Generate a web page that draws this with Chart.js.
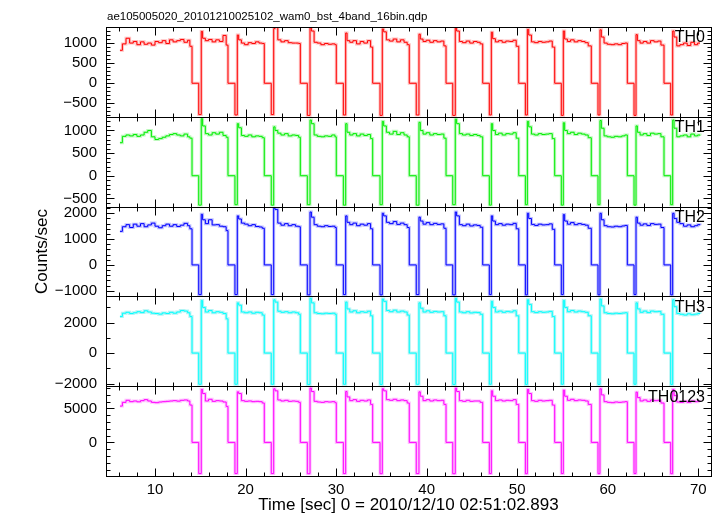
<!DOCTYPE html>
<html>
<head>
<meta charset="utf-8">
<script src="https://cdn.jsdelivr.net/npm/chart.js@4.4.1/dist/chart.umd.min.js"></script>
<style>
html, body { margin: 0; padding: 0; background: #fff; }
#wrap { width: 720px; height: 516px; }
</style>
</head>
<body>
<div id="wrap"><canvas id="lc" width="720" height="516"></canvas></div>
<script>
var fileTitle = 'ae105005020_20101210025102_wam0_bst_4band_16bin.qdp';
var xTitle = 'Time [sec] 0 = 2010/12/10 02:51:02.893';
var yTitle = 'Counts/sec';
var bandNames = ['TH0', 'TH1', 'TH2', 'TH3', 'TH0123'];

// bin start times (sec)
var timeSec = [
    6.13, 6.4, 6.8, 7.2, 7.6, 8.0, 8.4, 8.8, 9.2, 9.6, 10.0, 10.4, 10.8, 11.2, 11.6, 12.0, 12.4, 12.8, 13.2, 13.6, 13.85,
    14.09, 14.83,
    15.11, 15.26, 15.56, 15.91, 16.31, 16.71, 17.11, 17.51, 17.86, 18.06, 18.83,
    19.09, 19.24, 19.54, 19.89, 20.29, 20.69, 21.09, 21.49, 21.84, 22.07, 22.84,
    23.11, 23.26, 23.56, 23.91, 24.31, 24.71, 25.11, 25.51, 25.86, 26.05, 26.82,
    27.12, 27.27, 27.57, 27.92, 28.32, 28.72, 29.12, 29.52, 29.87, 30.02, 30.80,
    31.06, 31.21, 31.51, 31.86, 32.26, 32.66, 33.06, 33.46, 33.81, 34.04, 34.85,
    35.10, 35.25, 35.55, 35.90, 36.30, 36.70, 37.10, 37.50, 37.85, 38.08, 38.85,
    39.15, 39.30, 39.60, 39.95, 40.35, 40.75, 41.15, 41.55, 41.90, 42.14, 42.88,
    43.16, 43.31, 43.61, 43.96, 44.36, 44.76, 45.16, 45.56, 45.91, 46.19, 46.92,
    47.14, 47.29, 47.59, 47.94, 48.34, 48.74, 49.14, 49.54, 49.89, 50.17, 50.90,
    51.12, 51.27, 51.57, 51.92, 52.32, 52.72, 53.12, 53.52, 53.87, 54.14, 54.87,
    55.09, 55.24, 55.54, 55.89, 56.29, 56.69, 57.09, 57.49, 57.84, 58.18, 58.92,
    59.14, 59.29, 59.59, 59.94, 60.34, 60.74, 61.14, 61.54, 61.89, 62.16, 62.90,
    63.12, 63.27, 63.57, 63.92, 64.32, 64.72, 65.12, 65.52, 65.87, 66.21, 66.95,
    67.17, 67.32, 67.62, 67.97, 68.37, 68.77, 69.17, 69.57, 69.92, 70.19
];

var th0 = [
    820, 980, 1120, 1000, 1040, 960, 1030, 970, 1000, 950, 1040, 1010, 1060, 990, 1080, 1030, 1060, 1090, 1020, 1070, 920,
    0, -780,
    1290, 1120, 1060, 1090, 1030, 1080, 1040, 1190, 950, 0, -790,
    1200, 1080, 1000, 960, 1010, 990, 1030, 1000, 990, 0, -780,
    1360, 1390, 1080, 1030, 1060, 1010, 1000, 1000, 990, 0, -800,
    1380, 1300, 1020, 1000, 960, 990, 970, 980, 960, 0, -790,
    1250, 1060, 1020, 1060, 980, 1040, 1000, 1060, 900, 0, -800,
    1350, 1280, 1080, 1050, 1100, 1030, 1080, 1020, 960, 0, -790,
    1220, 1100, 1040, 1070, 1020, 1060, 1030, 1050, 930, 0, -800,
    1380, 1300, 1040, 1010, 1050, 1000, 1040, 1020, 980, 0, -790,
    1270, 1110, 1030, 1060, 1020, 1050, 1040, 1070, 920, 0, -790,
    1340, 1200, 1030, 1010, 1040, 1020, 1030, 1050, 900, 0, -800,
    1300, 1100, 1040, 1080, 1030, 1060, 1040, 1010, 930, 0, -790,
    1330, 1150, 1000, 970, 960, 980, 960, 990, 1000, 0, -800,
    1210, 1060, 1000, 1040, 1000, 1060, 1030, 1050, 950, 0, -790,
    1300, 1150, 930, 960, 1000, 940, 1020, 960, 1000, 1000
];

var th1 = [
    730, 870, 900, 880, 910, 870, 900, 960, 1000, 860, 800, 820, 850, 880, 910, 930, 900, 880, 920, 860, 830,
    0, -650,
    1260, 1100, 930, 900, 950, 920, 960, 890, 850, 0, -640,
    1150, 1060, 890, 870, 900, 860, 880, 870, 840, 0, -650,
    1080, 1000, 940, 900, 930, 880, 900, 890, 850, 0, -640,
    1230, 1150, 900, 870, 860, 880, 870, 900, 860, 0, -650,
    1150, 960, 900, 930, 880, 920, 890, 910, 820, 0, -640,
    1200, 1100, 960, 920, 980, 910, 950, 900, 860, 0, -650,
    1180, 1000, 920, 950, 900, 930, 910, 920, 830, 0, -640,
    1250, 1150, 930, 900, 920, 890, 910, 890, 860, 0, -650,
    1150, 1000, 910, 940, 900, 930, 920, 950, 830, 0, -640,
    1200, 1080, 920, 900, 930, 910, 920, 930, 820, 0, -650,
    1170, 1000, 930, 960, 910, 940, 920, 900, 840, 0, -640,
    1220, 1050, 880, 860, 850, 870, 860, 880, 900, 0, -650,
    1100, 960, 900, 930, 890, 940, 920, 930, 860, 0, -640,
    1230, 1050, 860, 880, 900, 860, 920, 880, 900, 890
];

var th2 = [
    1300, 1480, 1560, 1450, 1580, 1500, 1600, 1480, 1550, 1620, 1500, 1440, 1520, 1580, 1500, 1560, 1490, 1540, 1610, 1520, 1400,
    0, -1150,
    1960, 1750, 1600, 1750, 1550, 1560, 1500, 1480, 1330, 0, -1150,
    1900, 1780, 1620, 1580, 1520, 1560, 1490, 1470, 1420, 0, -1150,
    2200, 2150, 1620, 1540, 1600, 1520, 1560, 1500, 1480, 0, -1160,
    2050, 1850, 1560, 1500, 1480, 1520, 1490, 1500, 1450, 0, -1150,
    1900, 1650, 1560, 1620, 1520, 1580, 1540, 1600, 1400, 0, -1160,
    2000, 1900, 1650, 1600, 1680, 1570, 1620, 1560, 1450, 0, -1150,
    1850, 1700, 1580, 1640, 1560, 1610, 1570, 1590, 1420, 0, -1160,
    2050, 1900, 1560, 1520, 1580, 1510, 1550, 1530, 1460, 0, -1150,
    1900, 1700, 1560, 1600, 1540, 1580, 1560, 1610, 1400, 0, -1160,
    2000, 1800, 1570, 1530, 1580, 1550, 1560, 1590, 1380, 0, -1150,
    1950, 1700, 1580, 1640, 1560, 1600, 1570, 1540, 1420, 0, -1160,
    2000, 1750, 1520, 1480, 1470, 1500, 1480, 1510, 1530, 0, -1150,
    1850, 1620, 1540, 1590, 1530, 1600, 1570, 1580, 1450, 0, -1160,
    2000, 1800, 1650, 1600, 1500, 1550, 1480, 1520, 1560, 1540
];

var th3 = [
    2400, 2620, 2680, 2600, 2650, 2720, 2660, 2780, 2700, 2620, 2600, 2560, 2640, 2600, 2680, 2620, 2700, 2800, 2760, 2650, 2400,
    0, -2050,
    3450, 3000, 2700, 2800, 2650, 2720, 2680, 2600, 2250, 0, -2050,
    3300, 3150, 2700, 2650, 2700, 2620, 2680, 2650, 2500, 0, -2050,
    3500, 3350, 2750, 2680, 2720, 2650, 2700, 2650, 2550, 0, -2060,
    3600, 3300, 2650, 2600, 2580, 2620, 2600, 2620, 2550, 0, -2050,
    3350, 2900, 2700, 2780, 2650, 2720, 2680, 2750, 2450, 0, -2060,
    3550, 3400, 2800, 2720, 2820, 2700, 2760, 2700, 2500, 0, -2050,
    3300, 2950, 2700, 2780, 2680, 2740, 2700, 2720, 2450, 0, -2060,
    3600, 3350, 2700, 2650, 2720, 2640, 2680, 2660, 2550, 0, -2050,
    3400, 3000, 2700, 2760, 2680, 2740, 2700, 2780, 2450, 0, -2060,
    3500, 3200, 2720, 2660, 2720, 2680, 2700, 2740, 2400, 0, -2050,
    3450, 3000, 2720, 2800, 2700, 2760, 2720, 2680, 2450, 0, -2060,
    3550, 3100, 2650, 2600, 2580, 2620, 2600, 2630, 2650, 0, -2050,
    3300, 2900, 2680, 2760, 2660, 2760, 2720, 2740, 2550, 0, -2060,
    3500, 3050, 2600, 2550, 2500, 2580, 2520, 2560, 2600, 2580
];

var th0123 = [
    5350, 5900, 6200, 6000, 6100, 5980, 6150, 6300, 6100, 5900, 5850, 5950, 6000, 6050, 6100, 6150, 6080, 6200, 6250, 6100, 5500,
    0, -4600,
    7800, 7200, 6100, 6350, 6050, 6150, 6100, 5950, 5300, 0, -4600,
    7450, 7200, 6150, 6050, 6100, 6000, 6050, 6000, 5800, 0, -4600,
    7900, 7600, 6250, 6100, 6200, 6050, 6100, 6050, 5900, 0, -4620,
    8000, 7500, 6050, 5950, 5900, 6000, 5950, 6000, 5850, 0, -4600,
    7500, 6700, 6150, 6300, 6050, 6200, 6100, 6250, 5600, 0, -4620,
    7900, 7600, 6300, 6200, 6350, 6150, 6250, 6150, 5800, 0, -4600,
    7450, 6800, 6150, 6300, 6100, 6250, 6150, 6200, 5600, 0, -4620,
    8000, 7500, 6150, 6050, 6200, 6050, 6100, 6100, 5900, 0, -4600,
    7600, 6800, 6150, 6250, 6100, 6200, 6150, 6300, 5600, 0, -4620,
    7800, 7200, 6150, 6050, 6200, 6100, 6150, 6200, 5500, 0, -4600,
    7700, 6800, 6200, 6350, 6150, 6250, 6200, 6100, 5600, 0, -4620,
    7900, 7000, 6000, 5900, 5850, 5950, 5900, 5950, 6000, 0, -4600,
    7400, 6600, 6100, 6250, 6050, 6250, 6150, 6200, 5800, 0, -4620,
    7800, 6900, 5950, 5900, 6050, 5900, 6100, 6000, 6050, 6020
];

var xTicks = [10, 20, 30, 40, 50, 60, 70];
var th0Ticks = [-500, 0, 500, 1000];
var th1Ticks = [-500, 0, 500, 1000];
var th2Ticks = [-1000, 0, 1000, 2000];
var th3Ticks = [-2000, 0, 2000];
var th0123Ticks = [0, 5000];

var fontFamily = '"Liberation Sans", Arial, sans-serif';
var series = [th0, th1, th2, th3, th0123];
var tickSets = [th0Ticks, th1Ticks, th2Ticks, th3Ticks, th0123Ticks];
var colors = ['#ff0000', '#00ee00', '#0000ff', '#00ffff', '#ff00ff'];
var halos = ['rgba(255,0,0,0.25)', 'rgba(0,230,0,0.25)', 'rgba(0,0,255,0.25)', 'rgba(0,220,220,0.3)', 'rgba(255,0,255,0.25)'];
var ranges = [[-835, 1400], [-682, 1302], [-1220, 2260], [-2177, 3725], [-4956, 8280]];
var minorSteps = [100, 100, 200, 1000, 1000];

function toPoints(values) {
    return timeSec.map(function (t, i) { return { x: t, y: values[i] }; });
}

var datasets = [];
var scales = {
    x: {
        type: 'linear',
        position: 'bottom',
        min: 4.59,
        max: 71.4,
        grid: { display: false, drawTicks: false },
        border: { display: false },
        ticks: { color: '#000', font: { family: fontFamily, size: 15 }, padding: 5, maxRotation: 0, autoSkip: false },
        afterBuildTicks: function (s) { s.ticks = xTicks.map(function (v) { return { value: v }; }); },
        afterFit: function (s) { s.height = 40; }
    }
};

series.forEach(function (vals, i) {
    datasets.push({
        label: bandNames[i], data: toPoints(vals), yAxisID: 'y' + i, xAxisID: 'x',
        borderColor: colors[i], borderWidth: 1, stepped: true, pointRadius: 0, order: 0
    });
    datasets.push({
        label: bandNames[i] + ' err', data: toPoints(vals), yAxisID: 'y' + i, xAxisID: 'x',
        borderColor: halos[i], borderWidth: 3, stepped: true, pointRadius: 0, order: 1
    });
});

// stacked left axes: the first one defined ends up at the bottom
for (var k = series.length - 1; k >= 0; k--) {
    (function (i) {
        scales['y' + i] = {
            type: 'linear',
            position: 'left',
            stack: 'panels',
            stackWeight: 1,
            min: ranges[i][0],
            max: ranges[i][1],
            grid: { display: false, drawTicks: false },
            border: { display: false },
            ticks: {
                color: '#000', font: { family: fontFamily, size: 15 }, padding: 9, autoSkip: false,
                callback: function (v) { return v < 0 ? '\u2212' + Math.abs(v) : String(v); }
            },
            afterBuildTicks: function (s) { s.ticks = tickSets[i].map(function (v) { return { value: v }; }); },
            afterFit: function (s) { s.width = 106; }
        };
    })(k);
}

function seg(ctx, x1, y1, x2, y2) {
    ctx.beginPath();
    ctx.moveTo(x1, y1);
    ctx.lineTo(x2, y2);
    ctx.stroke();
}

var qdpFrame = {
    id: 'qdpFrame',
    afterDatasetsDraw: function (chart) {
        var ctx = chart.ctx, xs = chart.scales.x;
        var l = Math.round(xs.left) + 0.5, r = Math.round(xs.right) + 0.5;
        ctx.save();
        ctx.strokeStyle = '#000';
        ctx.lineWidth = 1;
        series.forEach(function (vals, i) {
            var ys = chart.scales['y' + i];
            var top = Math.round(ys.top) + 0.5, bot = Math.round(ys.bottom) + 0.5;
            ctx.strokeRect(l, top, r - l, bot - top);
            for (var v = 6; v <= 70; v += 2) {
                var px = Math.round(xs.getPixelForValue(v)) + 0.5;
                var len = v % 10 === 0 ? 8 : 4;
                seg(ctx, px, bot, px, bot - len);
                seg(ctx, px, top, px, top + len);
            }
            var st = minorSteps[i];
            for (var w = Math.ceil(ranges[i][0] / st) * st; w <= ranges[i][1]; w += st) {
                var py = Math.round(ys.getPixelForValue(w)) + 0.5;
                var ln = tickSets[i].indexOf(w) >= 0 ? 8 : 4;
                seg(ctx, l, py, l + ln, py);
                seg(ctx, r, py, r - ln, py);
            }
            ctx.fillStyle = '#000';
            ctx.font = '16px ' + fontFamily;
            ctx.textAlign = 'right';
            ctx.textBaseline = 'middle';
            ctx.fillText(bandNames[i], 705, ys.top + 11);
        });
        ctx.font = '11.5px ' + fontFamily;
        ctx.textAlign = 'left';
        ctx.textBaseline = 'alphabetic';
        ctx.fillText(fileTitle, 107, 20);
        ctx.font = '17px ' + fontFamily;
        ctx.textAlign = 'center';
        ctx.textBaseline = 'middle';
        ctx.fillText(xTitle, (xs.left + xs.right) / 2, 505);
        ctx.translate(42, (chart.chartArea.top + chart.chartArea.bottom) / 2);
        ctx.rotate(-Math.PI / 2);
        ctx.fillText(yTitle, 0, 0);
        ctx.restore();
    }
};

new Chart(document.getElementById('lc').getContext('2d'), {
    type: 'line',
    data: { datasets: datasets },
    options: {
        responsive: false,
        animation: false,
        devicePixelRatio: 1,
        layout: { padding: { top: 27, right: 9, left: 0, bottom: 0 } },
        plugins: { legend: { display: false }, tooltip: { enabled: false } },
        scales: scales
    },
    plugins: [qdpFrame]
});
</script>
</body>
</html>
